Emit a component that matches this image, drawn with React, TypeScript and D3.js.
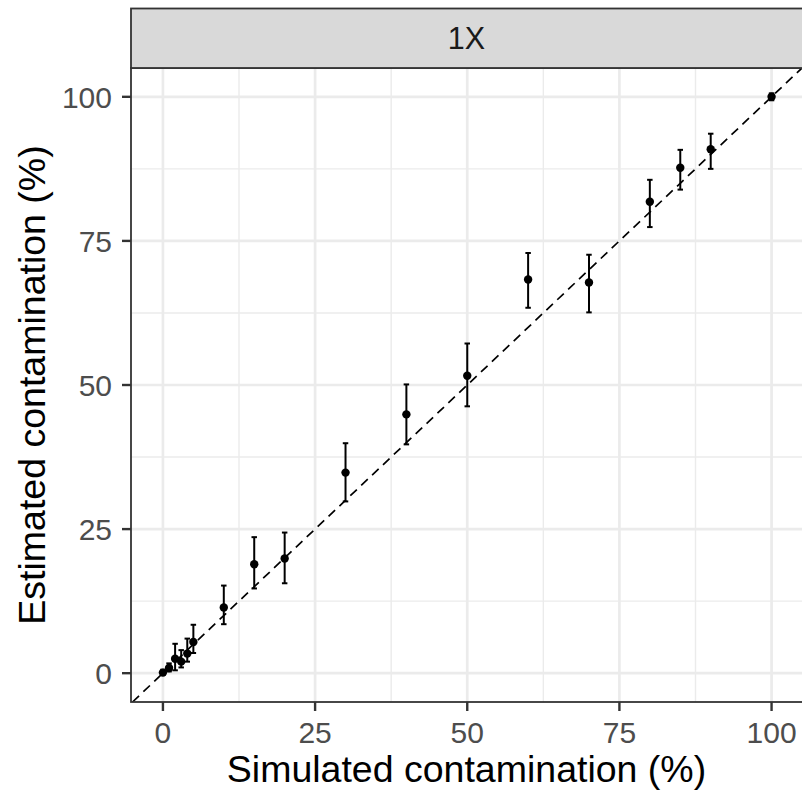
import React from "react";
import * as d3 from "d3";

const simulated = [0, 1, 2, 3, 4, 5, 10, 15, 20, 30, 40, 50, 60, 70, 80, 85, 90, 100];
const estimated = [0.1, 0.9, 2.5, 2.0, 3.4, 5.4, 11.4, 18.9, 19.9, 34.8, 44.9, 51.6, 68.3, 67.8, 81.8, 87.7, 90.9, 100.0];
const lower = [-0.2, 0.3, 0.5, 1.0, 2.0, 3.5, 8.5, 14.7, 15.6, 29.8, 39.7, 46.3, 63.4, 62.6, 77.4, 83.9, 87.5, 99.4];
const upper = [0.6, 1.7, 5.1, 4.0, 6.0, 8.4, 15.2, 23.6, 24.4, 39.9, 50.1, 57.2, 72.9, 72.6, 85.6, 90.8, 93.6, 100.6];
const majorTicks = [0, 25, 50, 75, 100];
const minorTicks = [12.5, 37.5, 62.5, 87.5];
const facetLabel = "1X";
const xTitle = "Simulated contamination (%)";
const yTitle = "Estimated contamination (%)";

const W = 802;
const H = 796;
const left = 131;
const right = 802;
const top = 68;
const bottom = 702;
const stripTop = 8.5;
const font = "'Liberation Sans', Arial, Helvetica, sans-serif";

export default function App() {
  const x = d3.scaleLinear().domain([-5, 105]).range([left + 1.5, right]);
  const y = d3.scaleLinear().domain([-5, 105]).range([bottom, top]);
  const capHalf = 0.45;

  return (
    <svg
      width={W}
      height={H}
      style={{ position: "absolute", left: 0, top: 0, display: "block", background: "#fff" }}
    >
      <defs>
        <clipPath id="panel">
          <rect x={left} y={top} width={right - left} height={bottom - top} />
        </clipPath>
      </defs>
      <rect x={0} y={0} width={W} height={H} fill="#fff" />
      <g clipPath="url(#panel)">
        {minorTicks.map((t) => (
          <g key={"mn" + t}>
            <line x1={x(t)} x2={x(t)} y1={top} y2={bottom} stroke="#ebebeb" strokeWidth={1.4} />
            <line x1={left} x2={right} y1={y(t)} y2={y(t)} stroke="#ebebeb" strokeWidth={1.4} />
          </g>
        ))}
        {majorTicks.map((t) => (
          <g key={"mj" + t}>
            <line x1={x(t)} x2={x(t)} y1={top} y2={bottom} stroke="#ebebeb" strokeWidth={2.7} />
            <line x1={left} x2={right} y1={y(t)} y2={y(t)} stroke="#ebebeb" strokeWidth={2.7} />
          </g>
        ))}
        <line
          x1={x(-5)}
          y1={y(-5)}
          x2={x(105)}
          y2={y(105)}
          stroke="#000"
          strokeWidth={1.7}
          strokeDasharray="9,6"
        />
        {simulated.map((s, i) => (
          <g key={"e" + i} stroke="#000" strokeWidth={2}>
            <line x1={x(s)} x2={x(s)} y1={y(lower[i])} y2={y(upper[i])} />
            <line x1={x(s - capHalf)} x2={x(s + capHalf)} y1={y(lower[i])} y2={y(lower[i])} />
            <line x1={x(s - capHalf)} x2={x(s + capHalf)} y1={y(upper[i])} y2={y(upper[i])} />
          </g>
        ))}
        {simulated.map((s, i) => (
          <circle key={"p" + i} cx={x(s)} cy={y(estimated[i])} r={4.2} fill="#000" />
        ))}
      </g>
      <rect
        x={left}
        y={top}
        width={right - left + 2}
        height={bottom - top}
        fill="none"
        stroke="#333333"
        strokeWidth={1.8}
      />
      <rect
        x={left}
        y={stripTop}
        width={right - left + 2}
        height={top - stripTop}
        fill="#d9d9d9"
        stroke="#333333"
        strokeWidth={1.8}
      />
      <text
        x={(left + right) / 2}
        y={49}
        textAnchor="middle"
        fontFamily={font}
        fontSize={30.5}
        fill="#1a1a1a"
      >
        {facetLabel}
      </text>
      {majorTicks.map((t) => (
        <g key={"xt" + t}>
          <line x1={x(t)} x2={x(t)} y1={bottom} y2={bottom + 9} stroke="#333333" strokeWidth={2.4} />
          <text
            x={x(t)}
            y={743}
            textAnchor="middle"
            fontFamily={font}
            fontSize={30}
            fill="#4d4d4d"
          >
            {t}
          </text>
        </g>
      ))}
      {majorTicks.map((t) => (
        <g key={"yt" + t}>
          <line x1={left - 9} x2={left} y1={y(t)} y2={y(t)} stroke="#333333" strokeWidth={2.4} />
          <text
            x={112}
            y={y(t)}
            dy="0.36em"
            textAnchor="end"
            fontFamily={font}
            fontSize={30}
            fill="#4d4d4d"
          >
            {t}
          </text>
        </g>
      ))}
      <text
        x={(left + right) / 2}
        y={782}
        textAnchor="middle"
        fontFamily={font}
        fontSize={37.5}
        fill="#000"
      >
        {xTitle}
      </text>
      <text
        transform={`translate(45, ${(top + bottom) / 2}) rotate(-90)`}
        textAnchor="middle"
        fontFamily={font}
        fontSize={37.5}
        fill="#000"
      >
        {yTitle}
      </text>
    </svg>
  );
}
